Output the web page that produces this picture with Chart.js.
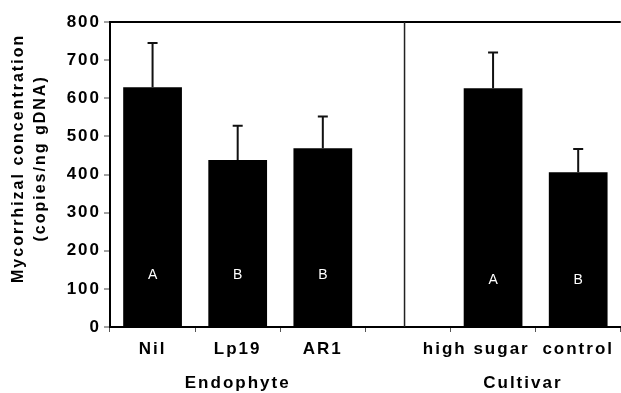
<!DOCTYPE html>
<html>
<head>
<meta charset="utf-8">
<script src="https://cdn.jsdelivr.net/npm/chart.js@4/dist/chart.umd.min.js"></script>
<style>
  html, body { margin: 0; padding: 0; background: #fff; }
  canvas { display: block; }
</style>
</head>
<body>
<canvas id="c" width="621" height="393"></canvas>
<script>
// ---- data ----
const categories = ['Nil', 'Lp19', 'AR1', '', 'high sugar', 'control'];
const values     = [629, 438, 469, null, 626, 406];
const errors     = [116, 90, 83, null, 94, 61];
const letters    = ['A', 'B', 'B', '', 'A', 'B'];
const letterLevels = [136, 136, 136, null, 123, 123];
const groupNames = ['Endophyte', 'Cultivar'];
const groupCenters = [1, 4.35];
const dividerAt = 2.96;
const yTicks = [0, 100, 200, 300, 400, 500, 600, 700, 800];
const yTitle = ['Mycorrhizal concentration', '(copies/ng gDNA)'];

const FONT = '"Liberation Sans", Arial, Helvetica, sans-serif';

const spacingPlugin = {
  id: 'spacing',
  beforeUpdate(chart) { chart.ctx.letterSpacing = '2px'; },
  beforeLayout(chart) { chart.ctx.letterSpacing = '2px'; },
  beforeDraw(chart) { chart.ctx.letterSpacing = '2px'; }
};

const errorPlugin = {
  id: 'errbars',
  afterDatasetsDraw(chart) {
    const ctx = chart.ctx;
    const meta = chart.getDatasetMeta(0);
    const y = chart.scales.y;
    ctx.save();
    ctx.strokeStyle = '#111';
    ctx.lineWidth = 2;
    meta.data.forEach((el, i) => {
      if (values[i] == null || errors[i] == null) return;
      const top = y.getPixelForValue(values[i] + errors[i]);
      ctx.beginPath();
      ctx.moveTo(el.x, el.y);
      ctx.lineTo(el.x, top);
      ctx.moveTo(el.x - 5, top);
      ctx.lineTo(el.x + 5, top);
      ctx.stroke();
    });
    // letters
    ctx.letterSpacing = '0px';
    ctx.fillStyle = '#fff';
    ctx.font = '14px ' + FONT;
    ctx.textAlign = 'center';
    ctx.textBaseline = 'middle';
    meta.data.forEach((el, i) => {
      if (!letters[i]) return;
      ctx.fillText(letters[i], el.x, y.getPixelForValue(letterLevels[i]));
    });
    ctx.restore();
  }
};

new Chart(document.getElementById('c'), {
  type: 'bar',
  data: {
    labels: categories,
    datasets: [{
      type: 'bar',
      data: values,
      backgroundColor: '#000',
      borderWidth: 0,
      grouped: false,
      barPercentage: 0.69,
      categoryPercentage: 1.0
    }, {
      type: 'line',
      xAxisID: 'x2',
      yAxisID: 'y',
      data: [{x: dividerAt, y: 0}, {x: dividerAt, y: 800}],
      borderColor: '#222',
      borderWidth: 1.5,
      pointRadius: 0,
      fill: false
    }]
  },
  options: {
    responsive: false,
    animation: false,
    devicePixelRatio: 1,
    layout: { padding: { top: 22, right: 0, bottom: 0, left: 0 } },
    plugins: { legend: { display: false }, tooltip: { enabled: false } },
    scales: {
      x: {
        type: 'category',
        position: 'bottom',
        weight: 0,
        offset: true,
        grid: {
          offset: true,
          drawOnChartArea: false,
          drawTicks: true,
          tickLength: 5,
          tickColor: '#555',
          tickWidth: 1
        },
        border: { display: true, color: '#000', width: 2 },
        ticks: {
          color: '#000',
          font: { family: FONT, size: 17, weight: 'bold' },
          padding: 7,
          maxRotation: 0,
          autoSkip: false,
          callback: (v, i) => i === 4 ? categories[i] + '     ' : categories[i]
        },
        afterFit(scale) { scale.height = 31; }
      },
      x2: {
        type: 'linear',
        position: 'bottom',
        weight: 1,
        offset: false,
        min: -0.5,
        max: 5.5,
        grid: { display: false, drawTicks: false, offset: false },
        border: { display: false },
        ticks: {
          color: '#000',
          font: { family: FONT, size: 17, weight: 'bold' },
          padding: 15,
          maxRotation: 0,
          autoSkip: false,
          callback: (v) => {
            const k = groupCenters.indexOf(v);
            return k >= 0 ? groupNames[k] : '';
          }
        },
        afterBuildTicks(scale) { scale.ticks = groupCenters.map(v => ({ value: v })); },
        afterFit(scale) { scale.height = 35; }
      },
      y: {
        type: 'linear',
        min: 0,
        max: 800,
        grid: {
          drawOnChartArea: true,
          drawTicks: true,
          tickLength: 6,
          color: (c) => (c.tick && c.tick.value === 800) ? '#000' : 'rgba(0,0,0,0)',
          lineWidth: 2,
          tickColor: '#444',
          tickWidth: 1
        },
        border: { display: true, color: '#000', width: 2 },
        afterBuildTicks(scale) { scale.ticks = yTicks.map(v => ({ value: v })); },
        ticks: {
          color: '#000',
          font: { family: FONT, size: 17, weight: 'bold' },
          padding: 3
        },
        title: {
          display: true,
          text: yTitle.map(s => '     ' + s),
          color: '#000',
          font: { family: FONT, size: 16, weight: 'bold', lineHeight: 1.4 },
          padding: { top: 7, bottom: 0 }
        },
        afterFit(scale) { scale.width = 110; }
      }
    }
  },
  plugins: [spacingPlugin, errorPlugin]
});
</script>
</body>
</html>
